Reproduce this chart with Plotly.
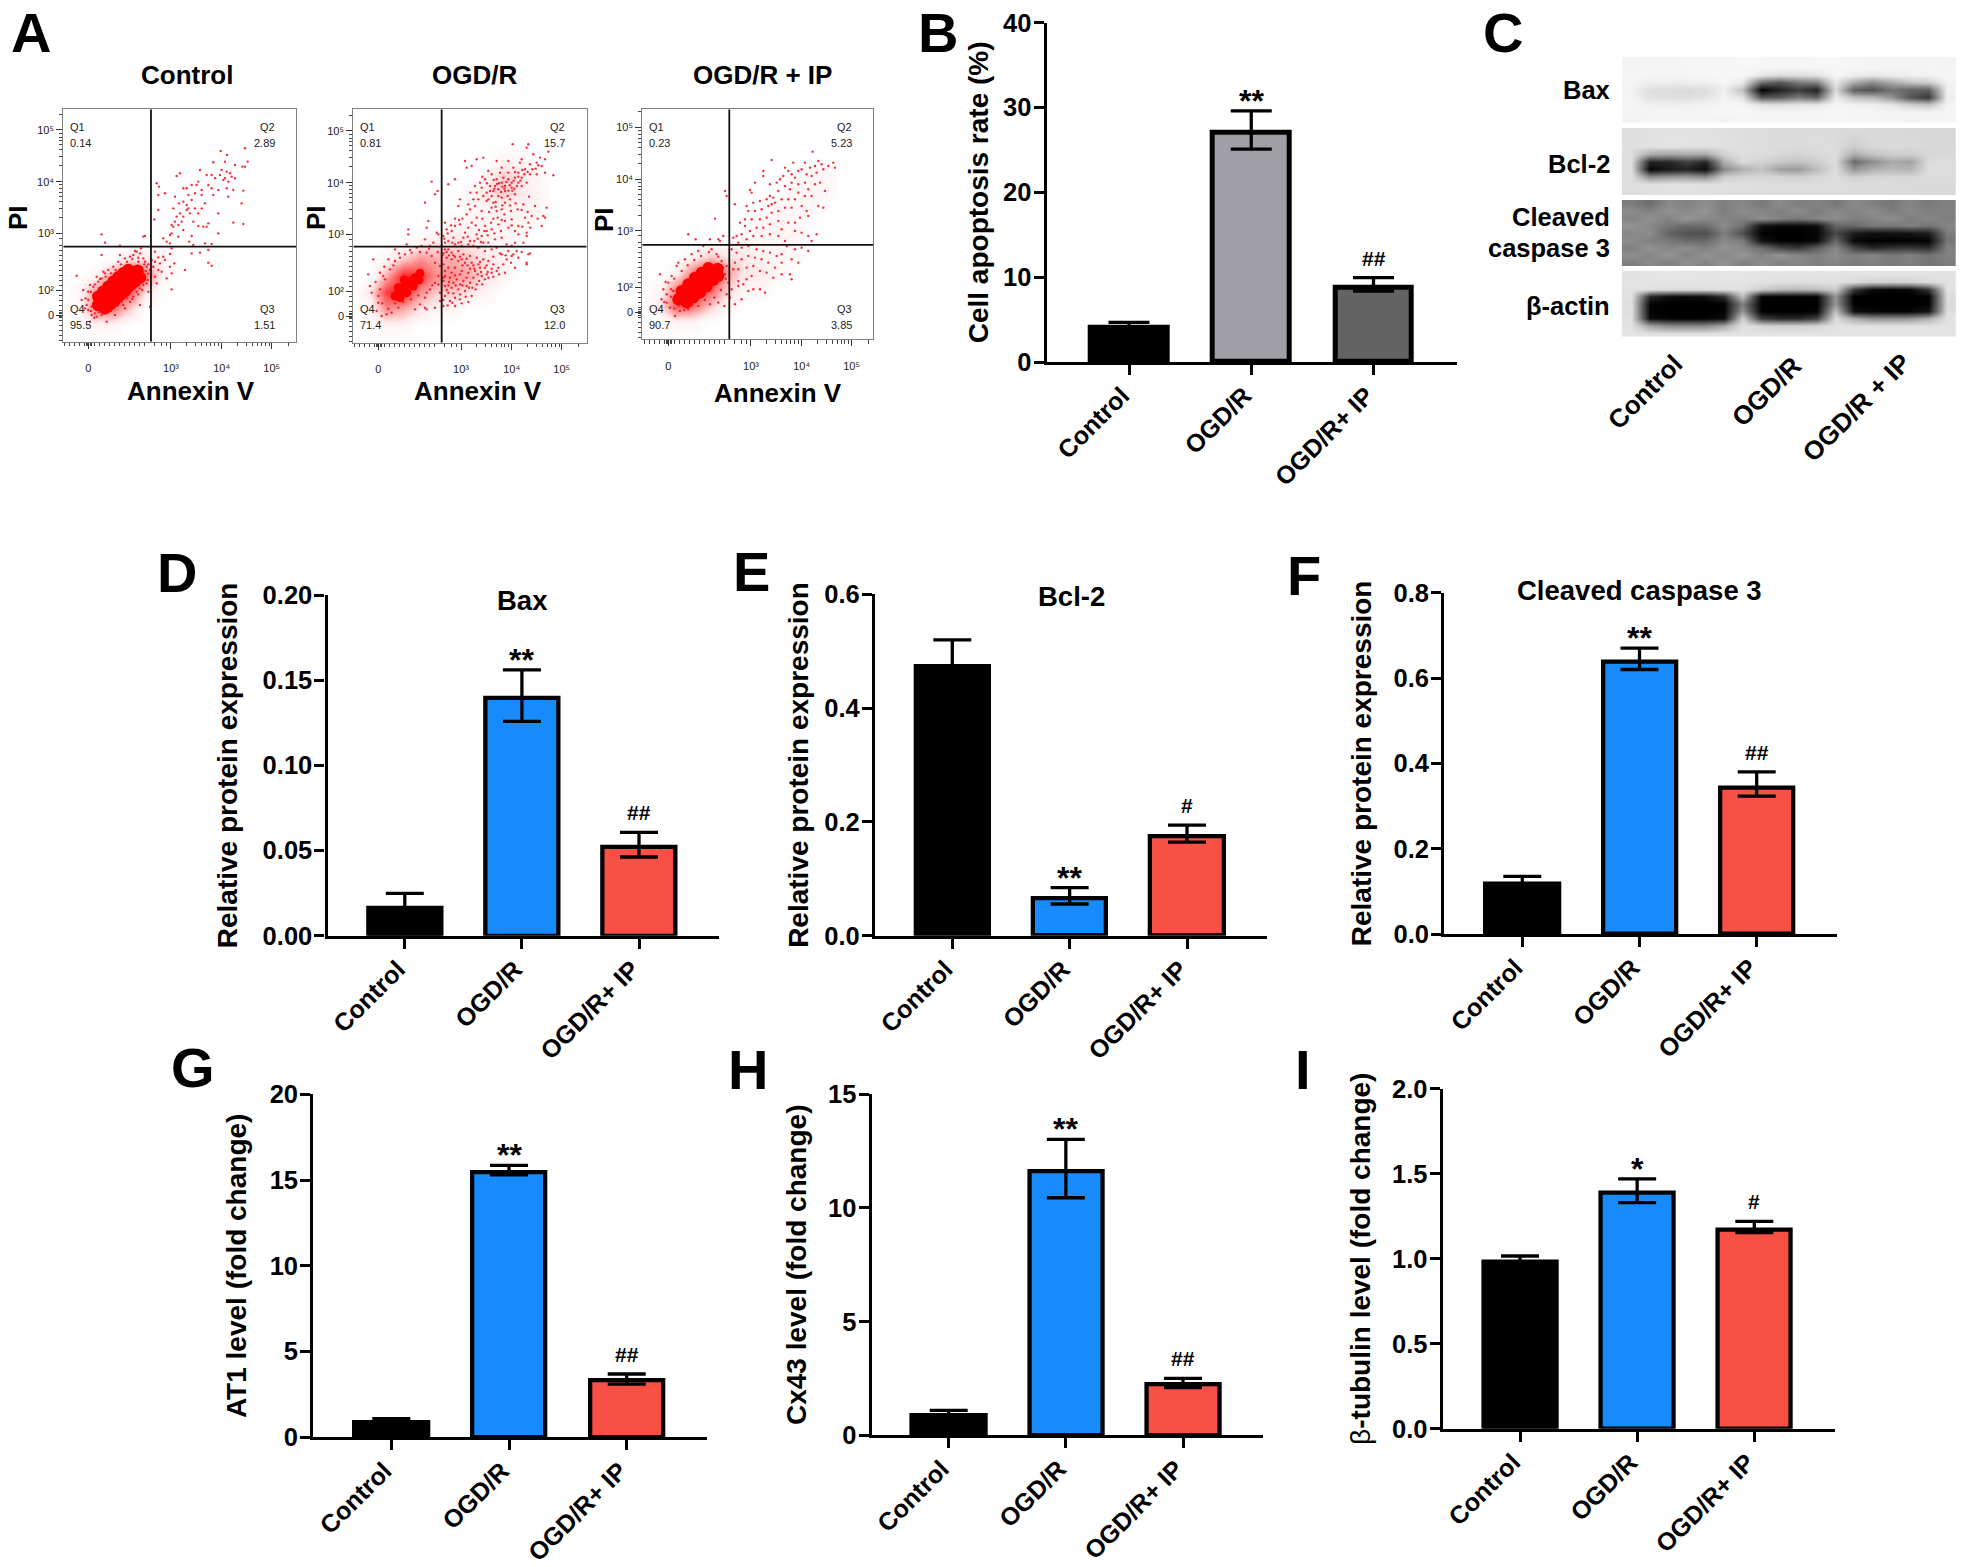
import plotly.graph_objects as go

W, H = 1965, 1567
FONT = "Liberation Sans"
BLUE, RED = "#178bfb", "#f95045"

# ---------- bar data ----------
cats = ["Control", "OGD/R", "OGD/R+ IP"]
b_mean = [4.1, 27.0, 8.8];        b_hi = [4.68, 29.6, 9.94];      b_lo = [3.8, 25.1, 8.37]
d_mean = [.0165, .1395, .052];    d_hi = [.0249, .156, .0607];    d_lo = [.01, .1258, .0462]
e_mean = [.474, .0655, .175];     e_hi = [.52, .0844, .1945];     e_lo = [.43, .0557, .1646]
f_mean = [.118, .639, .344];      f_hi = [.135, .67, .38];        f_lo = [.10, .62, .323]
g_mean = [.85, 15.48, 3.32];      g_hi = [1.09, 15.86, 3.69];     g_lo = [.7, 15.3, 3.1]
h_mean = [.89, 11.63, 2.24];      h_hi = [1.1, 13.02, 2.5];       h_lo = [.7, 10.45, 2.1]
i_mean = [.984, 1.386, 1.172];    i_hi = [1.016, 1.47, 1.22];     i_lo = [.96, 1.33, 1.153]

# ---------- flow cytometry (channel units) ----------
flow_labels = ["Control", "OGD/R", "OGD/R + IP"]
q_vals = [["0.14", "2.89", "1.51", "95.5"], ["0.81", "15.7", "12.0", "71.4"], ["0.23", "5.23", "3.85", "90.7"]]
x_major = [100, 348, 500, 650]
x_major_text = ["0", "10³", "10⁴", "10⁵"]
y_major = [80, 155, 325, 480, 635]
y_major_text = ["0", "10²", "10³", "10⁴", "10⁵"]
x_minor = [30, 45, 60, 75, 90, 94, 98, 102, 106, 110, 120, 135, 150, 165, 178, 195, 210, 225, 240, 255, 270, 300, 320, 335,
           395, 422, 440, 455, 468, 478, 490, 547, 574, 592, 607, 620, 630, 642, 700]
y_minor = [5, 20, 35, 50, 65, 72, 76, 84, 88, 95, 110, 125, 140, 170, 185, 200, 215, 230, 245, 260, 275, 290, 310,
           372, 400, 420, 435, 448, 458, 470, 527, 555, 575, 590, 603, 613, 625, 682]

ctrl_gate = (288, 285)
ogd_gate = (290, 288)
ip_gate = (283, 283)

ctrl_core = [(130,110),(145,122),(160,135),(175,150),(190,165),(205,178),(220,190),(235,203),(248,213),
             (130,135),(145,150),(160,165),(175,180),(190,193),(205,205),(220,215),
             (150,100),(165,112),(180,125),(195,140),(210,152),(225,168),(240,180),(255,192)]
ogd_core = [(150,140),(165,155),(180,170),(195,183),(210,195),(225,208),(160,165),(178,188),(165,135),(185,150),(205,170),(222,188)]
ip_core = [(130,120),(145,128),(160,140),(175,152),(190,165),(205,178),(220,190),(235,203),(248,212),
           (140,145),(160,165),(180,185),(200,200),(220,214),(155,110),(175,125),(195,140),(215,158),(235,178),(250,190)]

# density of the faint cloud, rows from channel 0 to 700, columns from channel 25 to 725 (both every 50)
ctrl_density = [
 [0,0,0,0,0,0,0,0,0,0,0,0,0,0,0],
 [0,0,1,1,0,0,0,0,0,0,0,0,0,0,0],
 [0,1,6,6,3,0,0,0,0,0,0,0,0,0,0],
 [0,1,5,8,7,2,0,0,0,0,0,0,0,0,0],
 [0,0,1,5,8,6,1,0,0,0,0,0,0,0,0],
 [0,0,0,0,2,2,1,0,0,0,0,0,0,0,0]] + [[0]*15]*9
ogd_density = [
 [0,0,0,0,0,0,0,0,0,0,0,0,0,0,0],
 [0,0,1,1,0,0,0,0,0,0,0,0,0,0,0],
 [0,1,5,4,2,1,1,0,0,0,0,0,0,0,0],
 [0,2,8,9,5,3,3,2,1,0,0,0,0,0,0],
 [0,0,4,9,8,5,5,4,2,1,0,0,0,0,0],
 [0,0,1,3,5,4,4,3,2,1,0,0,0,0,0],
 [0,0,0,0,1,2,2,2,1,1,0,0,0,0,0],
 [0,0,0,0,0,0,1,1,1,1,1,0,0,0,0],
 [0,0,0,0,0,0,0,1,1,1,1,1,0,0,0],
 [0,0,0,0,0,0,0,1,2,3,2,1,0,0,0],
 [0,0,0,0,0,0,0,0,1,3,2,1,0,0,0],
 [0,0,0,0,0,0,0,0,0,1,1,0,0,0,0]] + [[0]*15]*3
ip_density = [
 [0,0,0,0,0,0,0,0,0,0,0,0,0,0,0],
 [0,0,1,1,0,0,0,0,0,0,0,0,0,0,0],
 [0,2,7,6,3,1,0,0,0,0,0,0,0,0,0],
 [0,1,6,9,7,3,1,1,0,0,0,0,0,0,0],
 [0,0,1,6,9,5,2,2,1,0,0,0,0,0,0],
 [0,0,0,1,3,2,2,1,1,1,0,0,0,0,0],
 [0,0,0,0,0,0,1,1,1,1,0,0,0,0,0],
 [0,0,0,0,0,0,0,1,1,1,0,0,0,0,0],
 [0,0,0,0,0,0,0,0,1,1,1,0,0,0,0],
 [0,0,0,0,0,0,0,0,0,1,1,1,0,0,0],
 [0,0,0,0,0,0,0,0,0,0,1,1,0,0,0]] + [[0]*15]*4

ctrl_dots = [(497,572),(516,560),(570,580),(578,540),(562,525),(570,525),(510,540),(475,538),(435,515),(375,505),(365,497),(540,530),
 (500,515),(515,510),(530,495),(540,490),(520,480),(505,485),(470,500),(455,500),(430,480),(410,470),(395,460),(385,460),(305,475),
 (312,465),(330,445),(310,440),(360,435),(372,415),(355,400),(310,395),(298,367),(375,385),(365,375),(385,375),(395,395),(400,400),
 (410,425),(420,445),(440,440),(450,415),(430,385),(475,440),(490,455),(470,460),(515,460),(520,435),(535,455),(565,453),(560,415),
 (535,357),(565,353),(490,385),(460,355),(445,345),(430,347),(410,317),(490,325),(350,350),(325,310),(350,325),(335,300),(370,315),
 (403,300),(345,295),(415,290),(450,295),(470,293),(265,315),(270,317),(140,322),(150,297),(195,288),(400,440),(425,470),(440,455),
 (460,470),(480,490),(495,500),(510,490),(525,505),(385,420),(395,410),(405,385),(380,360),(370,350),(420,400),(440,400),(385,335),
 (355,345),(360,360),(345,320),(415,360),(455,345),(300,270),(310,253),(325,255),(330,245),(350,280),(345,263),(410,265),(435,267),
 (460,275),(358,235),(345,225),(310,215),(320,210),(350,205),(390,215),(460,237),(470,228),(300,195),(305,175),(335,190),(350,157),
 (290,245),(295,225),(300,240),(315,235),(65,198),(85,155),(80,125),(90,100),(95,110),(100,150),(105,170),(110,80),(120,85),(130,180),
 (140,190),(115,165),(125,75),(140,80),(150,95),(160,90),(170,100),(180,105),(190,115),(200,120),(215,130),(225,120),(235,135),(245,150),
 (255,160),(265,170),(275,175),(270,195),(280,205),(285,215),(275,225),(265,250),(255,265),(240,272),(225,255),(210,250),(190,240),
 (175,225),(160,215),(150,205),(140,260),(145,210),(125,195),(115,140),(100,125),(195,260),(235,260),(250,240),(255,225),(270,240),
 (245,270),(258,280),(100,95),(110,105),(105,60),(155,60),(180,80),(210,100),(255,110),(280,150),(285,105),(220,150),
 (92,130),(108,92),(118,72),(132,88),(145,85),(168,92),(188,108),(205,110),(232,128),(250,142),(262,155),(278,185),(272,212),
 (280,232),(268,232),(250,252),(232,248),(216,240),(198,232),(182,215),(168,205),(152,195),(135,188),(120,172),(108,150)]

ogd_dots = [(503,595),(550,595),(545,585),(610,573),(565,565),(600,550),(625,502),(585,555),(575,540),(555,535),(530,550),(525,540),
 (490,545),(455,545),(415,555),(395,550),(360,545),(380,530),(365,525),(330,490),(310,475),(260,483),(270,445),(278,455),(240,420),
 (250,365),(190,340),(190,325),(245,345),(275,330),(280,325),(300,360),(305,340),(320,335),(330,350),(345,355),(340,410),(345,430),
 (370,415),(385,430),(395,450),(410,465),(405,480),(420,490),(440,505),(430,515),(470,525),(505,525),(520,510),(540,520),(555,505),
 (575,505),(590,530),(600,510),(545,480),(530,470),(510,445),(495,430),(480,420),(470,400),(455,395),(440,405),(425,425),(410,395),
 (395,375),(380,360),(370,345),(360,330),(420,350),(440,340),(460,355),(480,365),(500,370),(520,350),(540,375),(550,360),(570,410),
 (605,405),(595,380),(590,350),(600,375),(560,380),(520,325),(545,330),(510,300),(500,290),(485,295),(470,315),(450,310),(430,300),
 (410,320),(395,325),(375,305),(355,315),(340,300),(325,315),(310,305),(300,300),(295,320),(535,300),(545,320),(515,275),(500,260),
 (555,268),(545,240),(485,250),(470,265),(440,280),(420,275),(400,285),(385,290),(370,295),(450,470),(460,460),(470,480),(480,470),
 (490,490),(500,480),(510,495),(475,495),(455,490),(440,440),(430,430),(445,420),(460,440),(480,455),(500,465),(520,480),(530,495),
 (465,510),(490,510),(445,455),(435,455),(300,280),(320,270),(340,275),(355,265),(375,260),(395,255),(415,250),(430,245),(445,235),
 (460,225),(475,235),(420,225),(400,235),(380,240),(360,240),(340,245),(320,250),(305,255),(295,235),(310,225),(330,225),(350,215),
 (370,210),(390,215),(410,200),(430,195),(300,200),(315,195),(335,190),(355,185),(375,180),(395,175),(300,170),(320,165),(340,160),
 (360,155),(380,140),(300,140),(315,125),(330,135),(345,130),(295,110),(330,110),(285,125),(310,150),(365,195),(385,195),(405,225),
 (440,210),(345,205),(320,210),(300,215),(480,210),(510,225),(545,235),(550,265),(505,265),(70,205),(85,250),(75,170),(80,150),(100,120),
 (95,95),(110,80),(125,85),(140,90),(160,105),(115,200),(105,160),(120,190),(135,220),(150,245),(165,255),(180,265),(200,270),(215,285),
 (230,290),(245,270),(260,260),(270,240),(285,230),(280,200),(270,180),(255,160),(240,135),(225,115),(210,100),(240,105),(270,105),
 (245,100),(285,150),(150,280),(185,295),(240,310),(265,300),(255,290),(290,290),(310,280),(330,295),(350,290),(415,300),(455,285),(490,275),
 (130,250),(145,232),(162,268),(195,278),(225,272),(252,282),(278,272),(292,262),(305,272),(325,262),(345,258),(365,252),(385,232),
 (405,242),(425,232),(440,222),(92,182),(105,210),(118,228),(100,140),(112,118),(130,102),(150,118),(175,122),(198,130),(220,142),
 (245,150),(262,172),(280,175),(295,195),(312,182),(332,172),(352,172),(372,165),(392,160),(412,175),(428,212),(455,215),(398,312),
 (418,335),(438,360),(458,375),(478,385),(498,395),(518,400),(535,415),(552,438),(495,412),(470,435),(452,422),(488,440),(508,462),
 (462,478),(472,468),(484,482),(494,472),(506,486),(478,462),(456,476),(448,462),(468,452),(490,456),(502,456),(516,470),(526,486),
 (435,470),(425,450),(415,440),(400,430),(390,410),(375,400),(365,385),(352,372),(342,368),(330,372),(318,352),(308,328),(298,312),
 (322,300),(348,302),(368,318),(388,305),(408,302),(428,322),(448,328),(468,335),(490,345),(510,335),(532,348),(556,345),(578,372),
 (452,408),(432,392),(412,372),(392,352),(472,412),(512,418),(530,398),(548,392),(500,352),(470,368),(445,372),(425,335),(402,338),
 (538,505),(548,512),(562,520),(572,522),(580,532),(520,498),(510,512),(532,518),(446,488),(426,478),(412,498),(390,470),(376,450),
 (296,268),(312,262),(330,258),(350,250),(368,232),(388,222),(408,212),(425,205),(445,198),(462,205),(498,240),(520,255),(530,272),
 (295,185),(310,172),(325,180),(345,175),(365,170),(382,165),(402,185),(420,190),(305,158),(325,148),(345,145),(362,138),(295,128),
 (308,112),(322,120),(350,118),(370,122),(330,202),(352,232),(375,222),(398,205),(445,258),(465,268),(482,262)]

ip_dots = [(533,563),(410,538),(475,530),(510,530),(550,535),(595,530),(600,515),(580,520),(565,510),(545,500),(530,490),(515,495),
 (500,510),(490,505),(470,495),(450,515),(445,490),(385,505),(385,490),(360,470),(345,448),(350,440),(405,430),(430,445),(450,460),
 (470,470),(490,465),(510,470),(520,450),(540,465),(555,470),(570,445),(530,430),(510,430),(490,440),(480,420),(460,420),(440,420),
 (420,410),(400,400),(380,390),(360,385),(340,385),(330,360),(350,360),(375,360),(395,365),(410,380),(430,385),(450,395),(470,395),
 (500,400),(515,385),(550,400),(565,395),(495,365),(520,370),(480,350),(460,350),(430,355),(405,345),(385,335),(365,335),(345,325),
 (330,340),(320,315),(305,310),(295,305),(310,290),(335,300),(355,310),(380,310),(405,315),(430,310),(450,295),(480,325),(500,320),
 (520,310),(545,315),(530,295),(300,405),(270,445),(275,430),(240,362),(160,315),(182,300),(225,300),(265,310),(255,295),(250,300),
 (290,270),(305,260),(320,275),(340,280),(365,270),(385,265),(405,260),(425,250),(440,255),(455,280),(480,270),(500,275),(520,265),
 (490,230),(470,240),(440,230),(420,215),(400,230),(380,240),(360,245),(340,250),(320,240),(300,230),(295,210),(310,210),(335,215),
 (355,220),(375,205),(395,200),(440,195),(465,195),(470,180),(335,180),(350,190),(310,175),(325,165),(375,150),(390,140),(415,185),
 (290,150),(310,160),(285,125),(300,105),(320,120),(340,145),(355,150),(75,195),(85,150),(80,120),(95,110),(105,95),(120,70),(135,85),
 (160,90),(190,100),(225,105),(250,110),(268,100),(275,135),(280,170),(270,195),(275,220),(260,235),(245,255),(230,270),(205,280),
 (190,265),(170,255),(150,240),(130,230),(125,220),(110,190),(100,170),(115,145),(95,135),(440,330),(415,425),(465,450),(395,420),
 (375,415),(355,410),(335,400),(315,350),(410,405),(435,480),(460,505),(425,470),(405,465),(480,485),(525,515),(540,520),(560,525),
 (92,172),(108,128),(118,92),(132,102),(148,88),(172,102),(210,118),(238,125),(258,148),(272,182),(265,215),(250,248),(222,262),
 (198,250),(178,238),(158,222),(140,205),(118,182),(108,150),(88,112)]

blot_bax = [
 [243,243,244,245,245,246,247,247,246,246,247,247,246,244,244,244,244,243],
 [244,245,245,246,246,247,248,246,245,245,246,248,246,245,244,244,245,244],
 [245,246,246,246,247,248,247,230,218,222,225,246,238,232,236,240,242,245],
 [245,238,238,238,240,247,235,110,85,120,130,235,170,140,170,195,205,244],
 [244,222,220,218,222,240,195,3,35,60,35,220,95,80,115,100,95,240],
 [244,226,224,222,228,244,228,90,95,125,100,238,195,185,150,85,55,238],
 [245,240,240,240,242,247,246,228,225,230,230,246,242,238,230,205,195,244],
 [244,245,246,245,246,247,247,246,245,245,246,247,246,245,244,244,244,245],
 [243,244,245,245,245,243,246,245,244,244,245,246,245,244,244,243,244,244]]
blot_bcl = [
 [222,225,226,226,225,224,222,220,219,218,219,218,218,218,217,216,216,215],
 [222,226,227,227,226,225,222,220,219,219,220,219,212,217,217,217,216,215],
 [223,226,227,226,225,224,222,221,220,219,220,220,205,216,218,217,216,216],
 [222,170,165,170,170,212,222,221,215,212,217,220,175,195,205,205,215,216],
 [222,35,40,65,40,175,220,210,200,195,205,222,105,140,170,160,220,220],
 [222,5,25,35,12,140,175,195,160,155,190,222,150,175,185,180,222,220],
 [222,140,150,155,140,205,212,216,212,208,215,222,208,214,215,214,220,220],
 [223,224,225,225,225,224,222,221,220,220,221,221,220,220,219,218,218,218],
 [222,224,225,225,224,223,222,221,220,220,220,220,219,219,218,218,217,217]]
blot_cas = [
 [125,110,138,130,142,128,135,122,140,126,132,120,138,128,118,134,122,128],
 [140,128,146,136,150,126,142,134,128,140,124,138,130,142,126,136,128,130],
 [132,146,130,152,136,134,128,142,130,118,136,140,128,132,144,124,136,126],
 [148,136,120,105,110,140,112,15,8,6,14,100,105,122,118,128,116,134],
 [135,142,100,82,78,128,80,2,0,0,4,72,28,15,18,20,30,124],
 [140,130,122,108,106,138,125,18,2,0,8,105,8,0,0,0,3,118],
 [128,146,134,142,130,148,138,110,70,55,95,136,70,38,50,55,45,128],
 [142,134,150,130,146,136,150,132,148,134,126,142,125,135,120,130,115,130],
 [126,140,128,144,132,148,128,142,130,136,128,132,124,130,122,128,118,124]]
blot_act = [
 [226,228,229,229,228,229,229,228,229,228,228,228,228,228,227,227,227,226],
 [227,228,229,228,228,228,228,226,225,224,224,225,220,212,210,212,222,226],
 [226,226,225,224,224,226,226,205,190,185,190,205,60,8,4,6,55,225],
 [226,40,12,10,12,50,195,4,0,0,3,150,0,0,0,0,2,220],
 [224,4,0,0,0,2,130,0,0,0,0,150,0,0,0,0,2,218],
 [224,3,0,0,0,2,150,2,0,0,4,195,15,6,4,5,20,222],
 [226,12,2,0,2,12,210,60,40,40,65,220,170,145,145,150,175,226],
 [227,165,140,140,140,170,226,215,210,210,215,226,226,226,226,226,226,227],
 [228,226,225,225,226,227,228,228,228,228,228,228,228,228,228,228,228,228]]

# ---------- helpers ----------
def xdom(a, b):
    return [a / W, b / W]

def ydom(top, bottom):
    return [1 - bottom / H, 1 - top / H]

fig = go.Figure()
layout = {}
annotations = []
axis_n = [0]

def bold(text, size, x, y, xanchor="center", angle=0, color="black", weight="bold", yanchor="middle"):
    annotations.append(dict(text=text, x=x, y=y, xref="x99", yref="y99", showarrow=False,
                            xanchor=xanchor, yanchor=yanchor, textangle=angle, align="right",
                            font=dict(family=FONT, size=size, color=color, weight=weight)))

def new_axes():
    axis_n[0] += 1
    n = axis_n[0]
    return n, ("x%d" % n, "y%d" % n), ("xaxis%d" % n, "yaxis%d" % n)

# ---------- bar panels ----------
def bar_panel(means, his, los, y_ticks, y_fmt, ytitle, standoff, ax_x, end_x, y0, ytop, centers, colors, lw, sig,
              title=None, title_xy=None, bar_w=0.625, cap=19, title_weight="bold"):
    n, (xr, yr), (xn, yn) = new_axes()
    spacing = (centers[2] - centers[0]) / 2
    rng_x = [-(centers[0] - ax_x) / spacing, 2 + (end_x - centers[2]) / spacing]
    fig.add_trace(go.Bar(x=[0, 1, 2], y=means, width=bar_w, xaxis=xr, yaxis=yr,
                         marker=dict(color=colors, line=dict(color="black", width=lw)),
                         error_y=dict(type="data", symmetric=False,
                                      array=[h - m for h, m in zip(his, means)],
                                      arrayminus=[m - l for l, m in zip(los, means)],
                                      color="black", thickness=3.3, width=cap)))
    layout[xn] = dict(domain=xdom(ax_x, end_x), range=rng_x, anchor=yr, tickmode="array", tickvals=[0, 1, 2], ticktext=cats,
                      tickangle=-45, ticks="outside", ticklen=10, tickwidth=3, tickcolor="black", showline=True,
                      linecolor="black", linewidth=3.3, showgrid=False, zeroline=False, ticklabelshift=-7, ticklabelstandoff=-4,
                      tickfont=dict(family=FONT, size=25, color="black", weight="bold"))
    layout[yn] = dict(domain=ydom(ytop, y0), range=[y_ticks[0], y_ticks[-1]], anchor=xr, tickmode="array", tickvals=y_ticks,
                      ticktext=[y_fmt % v for v in y_ticks], ticks="outside", ticklen=10, tickwidth=3, tickcolor="black",
                      showline=True, linecolor="black", linewidth=3.3, showgrid=False, zeroline=False, ticklabelstandoff=-3,
                      tickfont=dict(family=FONT, size=25.5, color="black", weight="bold"),
                      title=dict(text=ytitle, standoff=standoff, font=dict(family=FONT, size=28, color="black", weight=title_weight)))
    for i, s in enumerate(sig):
        if not s:
            continue
        star = s[0] == "*"
        annotations.append(dict(text=s, x=i, y=his[i], xref=xr, yref=yr, showarrow=False, yanchor="bottom",
                                yshift=-10 if star else 6,
                                font=dict(family=FONT, size=32 if star else 21, color="black", weight="bold")))
    if title:
        bold(title, 27.5, title_xy[0], title_xy[1])

black_blue_red = ["#000000", BLUE, RED]
bar_panel(b_mean, b_hi, b_lo, [0, 10, 20, 30, 40], "%d", "Cell apoptosis rate (%)", 7, 1046.7, 1457, 362, 22.7,
          [1129, 1252, 1373.5], ["#000000", "#a09fa5", "#636363"], 5, ["", "**", "##"], cap=20.5, bar_w=0.625)
bar_panel(d_mean, d_hi, d_lo, [0, .05, .1, .15, .2], "%.2f", "Relative protein expression", 17.5, 327.5, 719, 935.7, 595,
          [404.8, 522, 639], black_blue_red, 4.3, ["", "**", "##"], "Bax", (522.7, 600))
bar_panel(e_mean, e_hi, e_lo, [0, .2, .4, .6], "%.1f", "Relative protein expression", 8, 875, 1267, 935.7, 594.3,
          [952.3, 1070, 1187], black_blue_red, 4.3, ["", "**", "#"], "Bcl-2", (1071, 596))
bar_panel(f_mean, f_hi, f_lo, [0, .2, .4, .6, .8], "%.1f", "Relative protein expression", 14, 1444.3, 1837, 934, 592.7,
          [1522.3, 1639.3, 1756.7], black_blue_red, 4.3, ["", "**", "##"], "Cleaved caspase 3", (1639.3, 590))
bar_panel(g_mean, g_hi, g_lo, [0, 5, 10, 15, 20], "%d", "AT1 level (fold change)", 15, 313.3, 707, 1437.3, 1094.3,
          [391.3, 509, 626.7], black_blue_red, 4.3, ["", "**", "##"])
bar_panel(h_mean, h_hi, h_lo, [0, 5, 10, 15], "%d", "Cx43 level (fold change)", 14, 871.7, 1263, 1435.3, 1094.3,
          [948.7, 1065.7, 1183], black_blue_red, 4.3, ["", "**", "##"])
bar_panel(i_mean, i_hi, i_lo, [0, .5, 1, 1.5, 2], "%.1f", "β<b>-tubulin level (fold change)</b>", 14, 1442.7, 1835, 1428.7, 1088.7,
          [1520, 1637.3, 1754.3], black_blue_red, 4.3, ["", "*", "#"], title_weight="normal")

# ---------- flow panels ----------
flow_x = [25 + 50 * k for k in range(15)]
flow_y = [50 * k for k in range(15)]

def flow_panel(core, density, dots, gate, box, rx, ry, core_size, q, title, title_x, annex_x, annex_y, pi_x, pi_y):
    n, (xr, yr), (xn, yn) = new_axes()
    fig.add_trace(go.Heatmap(z=density, x=flow_x, y=flow_y, xaxis=xr, yaxis=yr, zmin=0, zmax=10, zsmooth="best",
                             showscale=False, hoverinfo="skip",
                             colorscale=[[0, "#ffffff"], [.1, "#fff5f5"], [.2, "#ffe8e8"], [.5, "#ff9090"], [1, "#ff0000"]]))
    fig.add_trace(go.Scatter(x=[p[0] for p in dots], y=[p[1] for p in dots], mode="markers", xaxis=xr, yaxis=yr,
                             marker=dict(color="#f01020", size=2.4, opacity=0.85, line=dict(width=0))))
    fig.add_trace(go.Scatter(x=[p[0] for p in core], y=[p[1] for p in core], mode="markers", xaxis=xr, yaxis=yr,
                             marker=dict(color="#ff0000", size=core_size, line=dict(width=0))))
    fig.add_trace(go.Scatter(x=[gate[0], gate[0], None, rx[0], rx[1]], y=[ry[0], ry[1], None, gate[1], gate[1]],
                             mode="lines", xaxis=xr, yaxis=yr, line=dict(color="#101010", width=1.8)))
    tick_font = dict(family=FONT, size=11, color="#222222")
    layout[xn] = dict(domain=xdom(box[0], box[1]), range=rx, anchor=yr, showgrid=False, zeroline=False, mirror=True, showline=True,
                      linecolor="#808080", linewidth=1.2, tickmode="array", tickvals=x_major, ticktext=x_major_text,
                      ticks="outside", ticklen=6, tickwidth=1.2, tickcolor="#333333", tickfont=tick_font, ticklabelstandoff=10,
                      minor=dict(tickmode="array", tickvals=x_minor, ticks="outside", ticklen=3.5, tickwidth=0.9, tickcolor="#444444"))
    layout[yn] = dict(domain=ydom(box[2], box[3]), range=ry, anchor=xr, showgrid=False, zeroline=False, mirror=True, showline=True,
                      linecolor="#808080", linewidth=1.2, tickmode="array", tickvals=y_major, ticktext=y_major_text,
                      ticks="outside", ticklen=6, tickwidth=1.2, tickcolor="#333333", tickfont=tick_font,
                      minor=dict(tickmode="array", tickvals=y_minor, ticks="outside", ticklen=3.5, tickwidth=0.9, tickcolor="#444444"))
    left, right = box[0] + 4.5, box[1] - 19.5
    top1, top2 = box[2] + 17.5, box[2] + 33.5
    bot1, bot2 = box[2] + 200, box[2] + 216
    for txt, xx, yy, anc in [("Q1", left, top1, "left"), (q[0], left, top2, "left"), ("Q2", right, top1, "right"),
                             (q[1], right, top2, "right"), ("Q3", right, bot1, "right"), (q[2], right, bot2, "right"),
                             ("Q4", left, bot1, "left"), (q[3], left, bot2, "left")]:
        bold(txt, 11, xx, yy, xanchor=anc, color="#222222", weight="normal")
    bold(title, 26, title_x, 75)
    bold("Annexin V", 26, annex_x, annex_y)
    bold("PI", 26, pi_x, pi_y, angle=-90)

flow_panel(ctrl_core, ctrl_density, ctrl_dots, ctrl_gate, (63.3, 296, 109.3, 341.7), [25, 723], [0, 697], 12.5, q_vals[0], flow_labels[0], 187, 191, 391, 18, 218)
flow_panel(ogd_core, ogd_density, ogd_dots, ogd_gate, (353.3, 586.7, 109.3, 342.7), [25, 725], [0, 700], 9, q_vals[1], flow_labels[1], 474.6, 478, 391, 316, 218)
flow_panel(ip_core, ip_density, ip_dots, ip_gate, (642.3, 873.3, 109.3, 339.3), [22, 715], [0, 690], 12, q_vals[2], flow_labels[2], 762, 778, 393, 604, 220)

# ---------- blots ----------
for z, (top, bottom) in zip([blot_bax, blot_bcl, blot_cas, blot_act], [(56.7, 122.7), (128, 195), (200, 266), (270.7, 336.7)]):
    n, (xr, yr), (xn, yn) = new_axes()
    fig.add_trace(go.Heatmap(z=z, xaxis=xr, yaxis=yr, zmin=0, zmax=255, zsmooth="best", showscale=False,
                             colorscale=[[0, "#000000"], [1, "#ffffff"]], hoverinfo="skip"))
    layout[xn] = dict(domain=xdom(1621.7, 1956), range=[-.5, 17.5], anchor=yr, visible=False)
    layout[yn] = dict(domain=ydom(top, bottom), range=[8.5, -.5], anchor=xr, visible=False)

for t, y in [("Bax", 90), ("Bcl-2", 164), ("Cleaved", 216.7), ("caspase 3", 248), ("β-actin", 305.5)]:
    bold(t, 25.5, 1612, y, xanchor="right")
bold("Control", 26, 1645, 392, angle=-45)
bold("OGD/R", 26, 1766, 392, angle=-45)
bold("OGD/R + IP", 26, 1856, 408, angle=-45)

# ---------- panel letters ----------
for letter, x, y in [("A", 8.6, 32), ("B", 916, 32), ("C", 1481, 32.5), ("D", 154.5, 572), ("E", 731, 571),
                     ("F", 1284.5, 575.5), ("G", 169, 1067), ("H", 726, 1069.5), ("I", 1293, 1069.5)]:
    bold(letter, 56, x, y, xanchor="left")

# full-canvas helper axes so that page-placed texts are given in pixels
fig.add_trace(go.Scatter(x=[0], y=[0], mode="markers", marker=dict(opacity=0), xaxis="x99", yaxis="y99", hoverinfo="skip"))
layout["xaxis99"] = dict(domain=[0, 1], range=[0, W], anchor="y99", visible=False)
layout["yaxis99"] = dict(domain=[0, 1], range=[H, 0], anchor="x99", visible=False)

fig.update_layout(width=W, height=H, margin=dict(l=0, r=0, t=0, b=0, autoexpand=False), paper_bgcolor="white", plot_bgcolor="rgba(0,0,0,0)",
                  showlegend=False, autosize=False, annotations=annotations, bargap=0, **layout)
fig.write_html("out.html", config={"displayModeBar": False}, post_script="document.body.style.margin='0';")
